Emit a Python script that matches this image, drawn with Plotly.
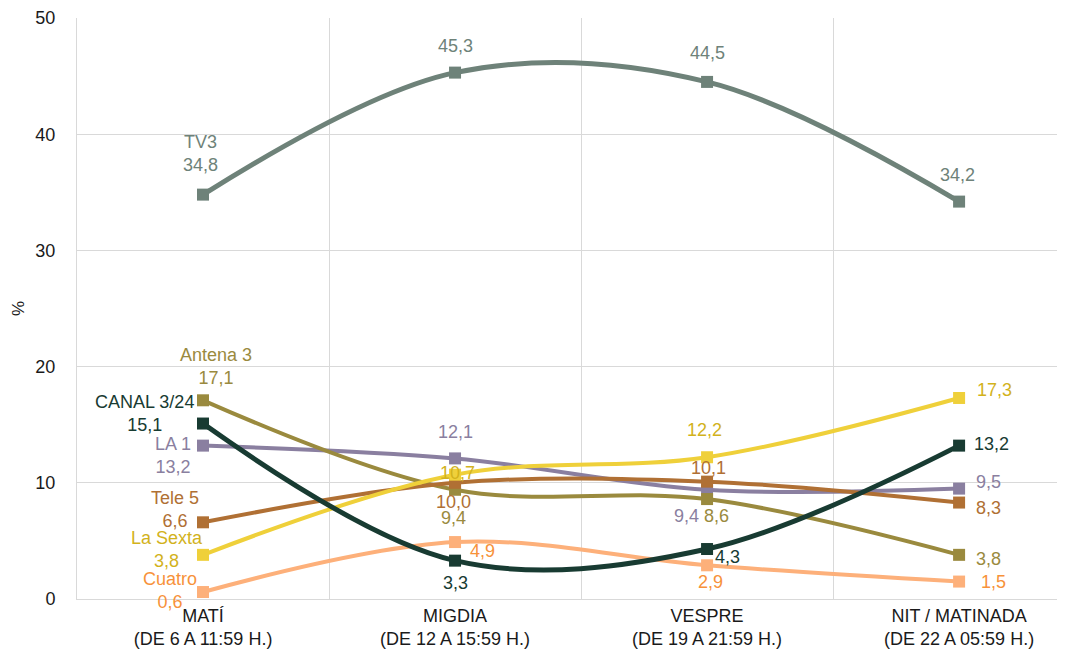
import plotly.graph_objects as go

categories = ["MATÍ<br>(DE 6 A 11:59 H.)", "MIGDIA<br>(DE 12 A 15:59 H.)",
              "VESPRE<br>(DE 19 A 21:59 H.)", "NIT / MATINADA<br>(DE 22 A 05:59 H.)"]
series_names = ["TV3", "LA 1", "Antena 3", "Tele 5", "La Sexta", "Cuatro", "CANAL 3/24"]
tv3 = [34.8, 45.3, 44.5, 34.2]
la1 = [13.2, 12.1, 9.4, 9.5]
antena3 = [17.1, 9.4, 8.6, 3.8]
tele5 = [6.6, 10.0, 10.1, 8.3]
lasexta = [3.8, 10.7, 12.2, 17.3]
cuatro = [0.6, 4.9, 2.9, 1.5]
canal324 = [15.1, 3.3, 4.3, 13.2]
values = [tv3, la1, antena3, tele5, lasexta, cuatro, canal324]

line_colors = ["#6E8279", "#8A7FA0", "#9A8A3E", "#B07034", "#EFD03A", "#FDB07A", "#183B32"]
label_colors = ["#6E8279", "#8A7FA0", "#9A8A3E", "#B07034", "#D2B21C", "#F7923A", "#183B32"]
widths = [5, 4, 4, 4, 4, 4, 5]

# label offsets (xshift, yshift, show series name) per series per category
offsets = {
    "TV3": [(-3, 41, True), (0, 27, False), (0, 29, False), (-2, 27, False)],
    "LA 1": [(-30, -10, True), (0, 26, False), (-21, -26, False), (29, 7, False)],
    "Antena 3": [(13, 34, True), (-2, -28, False), (9, -17, False), (29, -4, False)],
    "Tele 5": [(-28, 13, True), (-2, -19, False), (1, 14, False), (29, -5, False)],
    "La Sexta": [(-36, 5, True), (2, 2, False), (-3, 27, False), (35, 8, False)],
    "Cuatro": [(-33, 2, True), (27, -9, False), (3, -17, False), (34, 0, False)],
    "CANAL 3/24": [(-59, 10, True), (0, -22, False), (20, -8, False), (32, 2, False)],
}

FONT = "Liberation Sans, Arial, sans-serif"

fig = go.Figure()
for name, vals, lc, w in zip(series_names, values, line_colors, widths):
    fig.add_trace(go.Scatter(
        x=categories, y=vals, mode="lines+markers", name=name,
        line=dict(color=lc, width=w, shape="spline", smoothing=1),
        marker=dict(symbol="square", size=12, color=lc),
        cliponaxis=False, showlegend=False,
    ))

for name, vals, tc in zip(series_names, values, label_colors):
    for i, v in enumerate(vals):
        xs, ys, show_name = offsets[name][i]
        txt = f"{v:.1f}".replace(".", ",")
        if show_name:
            txt = f"{name}<br>{txt}"
        fig.add_annotation(
            x=categories[i], y=v, text=txt, showarrow=False,
            xshift=xs, yshift=ys, xanchor="center", yanchor="middle",
            align="center",
            font=dict(family=FONT, size=18, color=tc),
        )

fig.update_layout(
    width=1065, height=654,
    margin=dict(l=69, r=0, t=10, b=63, autoexpand=False),
    paper_bgcolor="white", plot_bgcolor="white",
    font=dict(family=FONT, color="#1a1a1a"),
)
fig.update_xaxes(
    type="category", range=[-0.5, 3.452], tickson="boundaries",
    showgrid=True, gridcolor="#d9d9d9", gridwidth=1,
    showline=True, linecolor="#d9d9d9", linewidth=1,
    ticks="", tickfont=dict(size=18, color="#1a1a1a"), zeroline=False,
    ticklabelstandoff=0,
)
fig.update_yaxes(
    range=[0, 50], dtick=10, showgrid=True, gridcolor="#d9d9d9", gridwidth=1,
    showline=True, linecolor="#d9d9d9", linewidth=1, zeroline=False,
    ticks="", ticklabelstandoff=17, tickfont=dict(size=18, color="#1a1a1a"),
    title=dict(text="%", font=dict(size=17, color="#1a1a1a"), standoff=6),
)

fig.write_html("out.html")
